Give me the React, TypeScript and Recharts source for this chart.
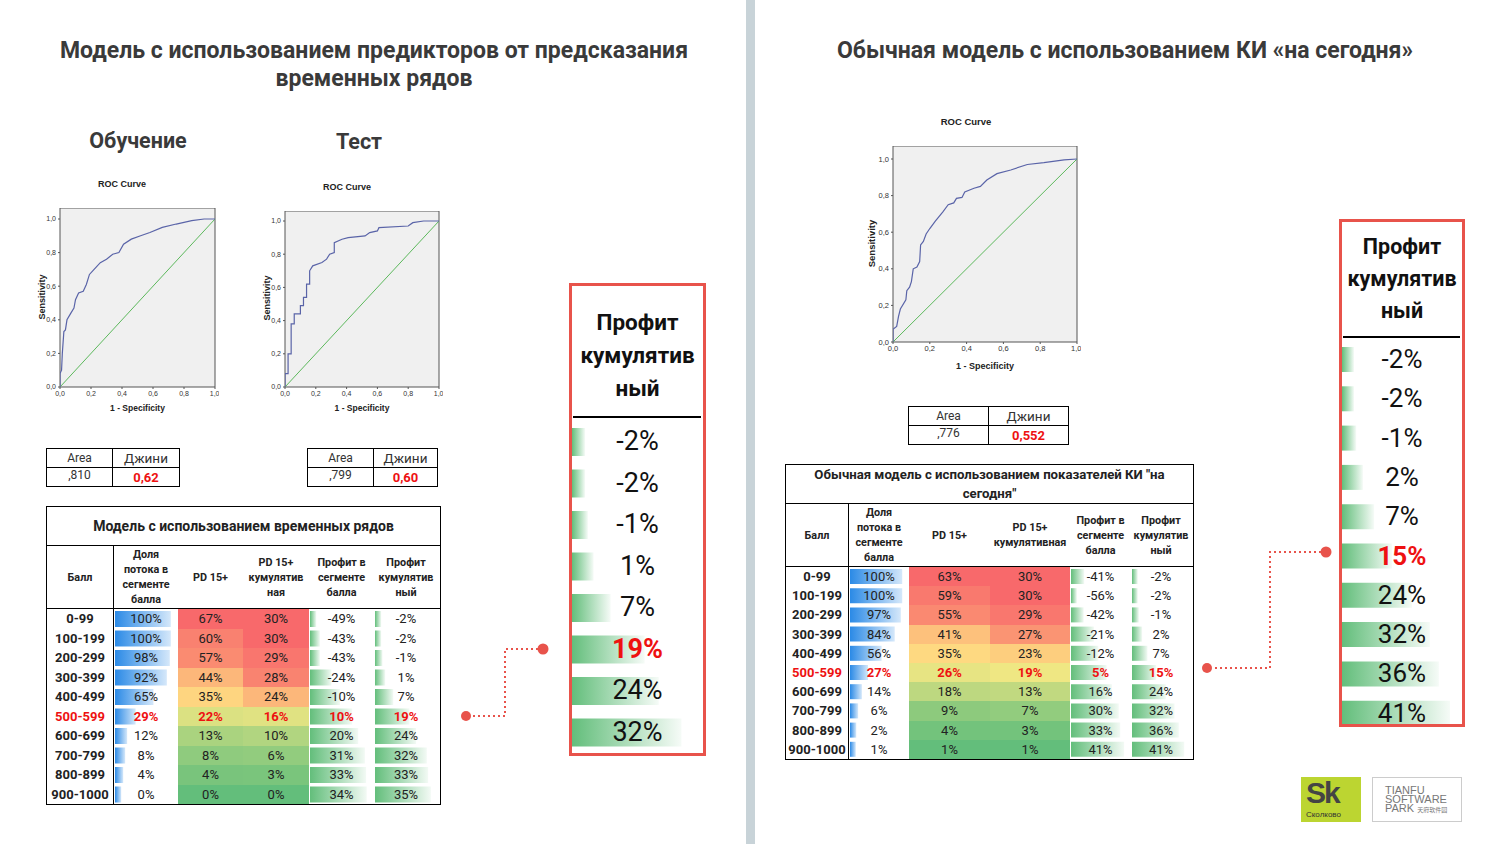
import React from 'react';
import {
  LineChart, Line, XAxis, YAxis, CartesianGrid, ReferenceArea,
  BarChart, Bar,
} from 'recharts';

// ROC curves (1 - specificity, sensitivity)
const trainRoc = [
  { x: 0, y: 0 }, { x: 0, y: 0.08 }, { x: 0.01, y: 0.1 }, { x: 0.015, y: 0.2 }, { x: 0.025, y: 0.33 },
  { x: 0.035, y: 0.34 }, { x: 0.045, y: 0.4 }, { x: 0.07, y: 0.44 }, { x: 0.09, y: 0.47 }, { x: 0.1, y: 0.52 },
  { x: 0.12, y: 0.56 }, { x: 0.15, y: 0.57 }, { x: 0.17, y: 0.61 }, { x: 0.19, y: 0.67 }, { x: 0.22, y: 0.7 },
  { x: 0.26, y: 0.74 }, { x: 0.3, y: 0.76 }, { x: 0.34, y: 0.79 }, { x: 0.38, y: 0.8 }, { x: 0.41, y: 0.85 },
  { x: 0.46, y: 0.88 }, { x: 0.52, y: 0.9 }, { x: 0.58, y: 0.92 }, { x: 0.66, y: 0.95 }, { x: 0.75, y: 0.97 },
  { x: 0.85, y: 0.99 }, { x: 0.93, y: 1 }, { x: 1, y: 1 },
];

const testRoc = [
  { x: 0, y: 0 }, { x: 0, y: 0.08 }, { x: 0.02, y: 0.08 }, { x: 0.02, y: 0.2 }, { x: 0.04, y: 0.2 },
  { x: 0.04, y: 0.38 }, { x: 0.06, y: 0.38 }, { x: 0.06, y: 0.44 }, { x: 0.1, y: 0.44 }, { x: 0.1, y: 0.49 },
  { x: 0.12, y: 0.49 }, { x: 0.12, y: 0.54 }, { x: 0.14, y: 0.54 }, { x: 0.14, y: 0.62 }, { x: 0.16, y: 0.62 },
  { x: 0.16, y: 0.7 }, { x: 0.18, y: 0.73 }, { x: 0.24, y: 0.75 }, { x: 0.27, y: 0.77 }, { x: 0.29, y: 0.8 },
  { x: 0.32, y: 0.81 }, { x: 0.32, y: 0.87 }, { x: 0.37, y: 0.89 }, { x: 0.41, y: 0.9 }, { x: 0.52, y: 0.91 },
  { x: 0.55, y: 0.93 }, { x: 0.6, y: 0.94 }, { x: 0.61, y: 0.96 }, { x: 0.8, y: 0.97 }, { x: 0.83, y: 0.99 },
  { x: 0.9, y: 1 }, { x: 1, y: 1 },
];

const todayRoc = [
  { x: 0, y: 0 }, { x: 0, y: 0.07 }, { x: 0.02, y: 0.085 }, { x: 0.03, y: 0.14 }, { x: 0.04, y: 0.18 },
  { x: 0.07, y: 0.23 }, { x: 0.075, y: 0.28 }, { x: 0.09, y: 0.3 }, { x: 0.1, y: 0.33 }, { x: 0.11, y: 0.4 },
  { x: 0.13, y: 0.41 }, { x: 0.145, y: 0.44 }, { x: 0.15, y: 0.53 }, { x: 0.165, y: 0.55 }, { x: 0.18, y: 0.59 },
  { x: 0.2, y: 0.62 }, { x: 0.23, y: 0.66 }, { x: 0.27, y: 0.71 }, { x: 0.3, y: 0.75 }, { x: 0.33, y: 0.76 },
  { x: 0.345, y: 0.785 }, { x: 0.375, y: 0.79 }, { x: 0.39, y: 0.82 }, { x: 0.44, y: 0.84 }, { x: 0.475, y: 0.85 },
  { x: 0.51, y: 0.885 }, { x: 0.565, y: 0.92 }, { x: 0.64, y: 0.94 }, { x: 0.73, y: 0.97 }, { x: 0.82, y: 0.98 },
  { x: 0.93, y: 0.995 }, { x: 1, y: 1 },
];

const diagonal = [{ x: 0, y: 0 }, { x: 1, y: 1 }];
const axisTicks = [0, 0.2, 0.4, 0.6, 0.8, 1];

// score band tables
const scoreBands = ['0-99', '100-199', '200-299', '300-399', '400-499', '500-599', '600-699', '700-799', '800-899', '900-1000'];
const highlightRow = 5;

const leftShare = [100, 100, 98, 92, 65, 29, 12, 8, 4, 0];
const leftPd = [67, 60, 57, 44, 35, 22, 13, 8, 4, 0];
const leftPdCum = [30, 30, 29, 28, 24, 16, 10, 6, 3, 0];
const leftProfitSeg = [-49, -43, -43, -24, -10, 10, 20, 31, 33, 34];
const leftProfitCum = [-2, -2, -1, 1, 7, 19, 24, 32, 33, 35];

const rightShare = [100, 100, 97, 84, 56, 27, 14, 6, 2, 1];
const rightPd = [63, 59, 55, 41, 35, 26, 18, 9, 4, 1];
const rightPdCum = [30, 30, 29, 27, 23, 19, 13, 7, 3, 1];
const rightProfitSeg = [-41, -56, -42, -21, -12, 5, 16, 30, 33, 41];
const rightProfitCum = [-2, -2, -1, 2, 7, 15, 24, 32, 36, 41];

const leftHeaders = ['Балл', 'Доля\nпотока в\nсегменте\nбалла', 'PD 15+', 'PD 15+\nкумулятив\nная', 'Профит в\nсегменте\nбалла', 'Профит\nкумулятив\nный'];
const rightHeaders = ['Балл', 'Доля\nпотока в\nсегменте\nбалла', 'PD 15+', 'PD 15+\nкумулятивная', 'Профит в\nсегменте\nбалла', 'Профит\nкумулятив\nный'];

const RED = '#e8534b';
const BLUE = '#2b8ae6';
const GREEN = '#63be7b';

const fmtTick = (v: number) => v.toFixed(1).replace('.', ',');

// excel-like 3 colour scale: green - yellow (median) - red
function mix(a: number[], b: number[], t: number) {
  const c = a.map((v, i) => Math.round(v + (b[i] - v) * t));
  return `rgb(${c[0]},${c[1]},${c[2]})`;
}
function heatColor(v: number, values: number[]) {
  const s = [...values].sort((a, b) => a - b);
  const mn = s[0], mx = s[s.length - 1];
  const mid = (s[4] + s[5]) / 2;
  const green = [99, 190, 123], yellow = [255, 235, 132], red = [248, 105, 107];
  if (v >= mid) return mix(yellow, red, mx === mid ? 0 : (v - mid) / (mx - mid));
  return mix(green, yellow, (v - mn) / (mid - mn));
}
// excel 2007 data bars: shortest 10%, longest 90% of cell
function barDomain(values: number[]): [number, number] {
  const mn = Math.min(...values), mx = Math.max(...values);
  const r = mx - mn;
  return [mn - r * 0.125, mx + r * 0.125];
}

function RocChart({ data, left, top, width, height, yMax, fs, titleTop, titleCenter, labelTop, ylabelLeft }: any) {
  const chartLeft = left - 30;
  return (
    <>
      <div style={{ position: 'absolute', left: titleCenter - 60, width: 120, top: titleTop, textAlign: 'center', fontFamily: 'Liberation Sans', fontWeight: 700, fontSize: fs + 2, color: '#222' }}>ROC Curve</div>
      <div style={{ position: 'absolute', left: chartLeft, top }}>
        <LineChart width={width + 34} height={height + 16} margin={{ top: 0, right: 4, bottom: 0, left: 0 }}>
          <CartesianGrid horizontal={false} vertical={false} fill="#f0f0f0" fillOpacity={1} />
          <XAxis type="number" dataKey="x" domain={[0, 1]} ticks={axisTicks} tickFormatter={fmtTick} height={16}
            tick={{ fontSize: fs, fill: '#333', fontFamily: 'Liberation Sans' }} tickSize={2} axisLine={false} tickLine={{ stroke: '#555' }} allowDataOverflow />
          <YAxis type="number" dataKey="y" domain={[0, yMax]} ticks={axisTicks} tickFormatter={fmtTick} width={30}
            tick={{ fontSize: fs, fill: '#333', fontFamily: 'Liberation Sans' }} tickSize={2} axisLine={false} tickLine={{ stroke: '#555' }} allowDataOverflow />
          <Line data={diagonal} dataKey="y" type="linear" stroke="#5cb85c" strokeWidth={1} dot={false} isAnimationActive={false} />
          <Line data={data} dataKey="y" type="linear" stroke="#5a64a8" strokeWidth={1.2} dot={false} isAnimationActive={false} />
          <ReferenceArea x1={0} x2={1} y1={0} y2={yMax} fill="none" stroke="#555" strokeWidth={1} ifOverflow="visible" />
        </LineChart>
      </div>
      <div style={{ position: 'absolute', left: left, width, top: labelTop, textAlign: 'center', fontFamily: 'Liberation Sans', fontWeight: 700, fontSize: fs + 1.5, color: '#222' }}>1 - Specificity</div>
      <div style={{ position: 'absolute', left: ylabelLeft - 60, top: top + height / 2 - 6, width: 120, textAlign: 'center', transform: 'rotate(-90deg)', fontFamily: 'Liberation Sans', fontWeight: 700, fontSize: fs + 2, color: '#222' }}>Sensitivity</div>
    </>
  );
}

function GiniBox({ left, top, area, gini, split, width }: any) {
  const cell: React.CSSProperties = { position: 'absolute', height: 19, lineHeight: '19px', textAlign: 'center', boxSizing: 'border-box' };
  return (
    <div style={{ position: 'absolute', left, top, width, height: 39, border: '1px solid #000', boxSizing: 'border-box', fontFamily: 'Roboto', color: '#333' }}>
      <div style={{ ...cell, left: 0, top: 0, width: split, borderRight: '1px solid #000', borderBottom: '1px solid #000', fontSize: 12 }}>Area</div>
      <div style={{ ...cell, left: split, top: 0, width: width - split - 2, borderBottom: '1px solid #000', fontSize: 13.5 }}>Джини</div>
      <div style={{ ...cell, left: 0, top: 19, width: split, borderRight: '1px solid #000', fontSize: 12, lineHeight: '15px' }}>{area}</div>
      <div style={{ ...cell, left: split, top: 19, width: width - split - 2, fontSize: 13, color: '#ee1111', fontWeight: 700 }}>{gini}</div>
    </div>
  );
}

function DataBars({ values, domain, width, height, color, id, gap, endOpacity }: any) {
  const rows = values.map((v: number, i: number) => ({ row: i, span: [domain[0], v] }));
  return (
    <BarChart width={width} height={height} data={rows} layout="vertical" margin={{ top: 0, right: 0, bottom: 0, left: 0 }} barCategoryGap={gap}>
      <defs>
        <linearGradient id={id} x1="0" y1="0" x2="1" y2="0">
          <stop offset="0%" stopColor={color} stopOpacity={1} />
          <stop offset="100%" stopColor={color} stopOpacity={endOpacity} />
        </linearGradient>
      </defs>
      <XAxis type="number" domain={domain} hide allowDataOverflow />
      <YAxis type="category" dataKey="row" hide />
      <Bar dataKey="span" fill={`url(#${id})`} isAnimationActive={false} />
    </BarChart>
  );
}

function ScoreTable({ left, top, colW, titleH, headerH, rowH, title, titleSize, headers, share, pd, pdCum, profitSeg, profitCum, id }: any) {
  const width = colW.reduce((a: number, b: number) => a + b, 0);
  const bodyH = rowH * scoreBands.length;
  const xs = colW.map((_: number, i: number) => colW.slice(0, i).reduce((a: number, b: number) => a + b, 0));
  const textStyle = (i: number): React.CSSProperties => ({
    position: 'absolute', left: 0, right: 0, top: i * rowH, height: rowH, lineHeight: rowH + 'px', textAlign: 'center', fontSize: 13,
    color: i === highlightRow ? '#ee1111' : '#222', fontWeight: i === highlightRow ? 700 : 400,
  });
  const barCol = (k: number, values: number[], color: string, suffix: string, endOpacity: number) => (
    <div style={{ position: 'absolute', left: xs[k], top: 0, width: colW[k], height: bodyH }}>
      <div style={{ position: 'absolute', left: 1, top: 0 }}>
        <DataBars values={values} domain={barDomain(values)} width={colW[k] - 2} height={bodyH} color={color} id={id + suffix} gap={2} endOpacity={endOpacity} />
      </div>
      {values.map((v, i) => <div key={i} style={textStyle(i)}>{v}%</div>)}
    </div>
  );
  const heatCol = (k: number, values: number[]) => (
    <div style={{ position: 'absolute', left: xs[k], top: 0, width: colW[k], height: bodyH }}>
      {values.map((v, i) => (
        <div key={i} style={{ ...textStyle(i), background: heatColor(v, values) }}>{v}%</div>
      ))}
    </div>
  );
  return (
    <div style={{ position: 'absolute', left, top, width: width + 2, border: '1px solid #000', fontFamily: 'Roboto', color: '#222' }}>
      <div style={{ height: titleH, borderBottom: '1px solid #000', display: 'flex', alignItems: 'center', justifyContent: 'center', textAlign: 'center', whiteSpace: 'pre-line', fontWeight: 700, fontSize: titleSize, lineHeight: '19px' }}>{title}</div>
      <div style={{ position: 'relative', height: headerH, borderBottom: '1px solid #000' }}>
        {headers.map((h: string, k: number) => (
          <div key={k} style={{ position: 'absolute', left: xs[k], top: 0, width: colW[k], height: headerH, display: 'flex', alignItems: 'center', justifyContent: 'center', textAlign: 'center', whiteSpace: 'pre-line', fontWeight: 700, fontSize: 10.8, lineHeight: '15px', boxSizing: 'border-box', borderRight: k === 0 ? '1px solid #000' : 'none' }}>{h}</div>
        ))}
      </div>
      <div style={{ position: 'relative', height: bodyH }}>
        <div style={{ position: 'absolute', left: 0, top: 0, width: colW[0], height: bodyH, borderRight: '1px solid #000', boxSizing: 'border-box' }}>
          {scoreBands.map((b, i) => <div key={b} style={{ ...textStyle(i), fontWeight: 700, fontSize: 13 }}>{b}</div>)}
        </div>
        {barCol(1, share, BLUE, 'share', 0.2)}
        {heatCol(2, pd)}
        {heatCol(3, pdCum)}
        {barCol(4, profitSeg, GREEN, 'seg', 0.08)}
        {barCol(5, profitCum, GREEN, 'cum', 0.08)}
      </div>
    </div>
  );
}

function ProfitBox({ left, top, width, height, values, domain, headTop, lineY, rowsTop, rowH, lineH, headSize, fontSize, id }: any) {
  const inner = width - 6;
  return (
    <div style={{ position: 'absolute', left, top, width, height, border: `3px solid ${RED}`, boxSizing: 'border-box', overflow: 'hidden', fontFamily: 'Roboto', background: '#fff' }}>
      <div style={{ position: 'absolute', left: 0, width: inner, top: headTop, textAlign: 'center', fontWeight: 700, fontSize: headSize, lineHeight: lineH + 'px', color: '#111', whiteSpace: 'pre-line' }}>{'Профит\nкумулятив\nный'}</div>
      <div style={{ position: 'absolute', left: 1, width: inner - 3, top: lineY, height: 2, background: '#000' }} />
      <div style={{ position: 'absolute', left: 0, top: rowsTop }}>
        <DataBars values={values} domain={domain} width={inner} height={rowH * values.length} color={GREEN} id={id} gap={7} endOpacity={0.06} />
      </div>
      {values.map((v: number, i: number) => (
        <div key={i} style={{ position: 'absolute', left: 0, width: inner, top: rowsTop + i * rowH, height: rowH, lineHeight: rowH + 'px', textAlign: 'center', fontSize, color: i === highlightRow ? '#ee1111' : '#111', fontWeight: i === highlightRow ? 700 : 400 }}>{v}%</div>
      ))}
    </div>
  );
}

export default function App() {
  const heading: React.CSSProperties = { position: 'absolute', textAlign: 'center', fontWeight: 700, color: '#3a3a3a', fontFamily: 'Roboto' };
  return (
    <div style={{ position: 'absolute', left: 0, top: 0, width: 1500, height: 844, background: '#fff', overflow: 'hidden', fontFamily: 'Roboto, sans-serif' }}>
      <div style={{ position: 'absolute', left: 746, top: 0, width: 9, height: 844, background: '#c8d3d8' }} />

      <div style={{ ...heading, left: 0, width: 748, top: 37, fontSize: 23, lineHeight: '28px' }}>
        Модель с использованием предикторов от предсказания<br />временных рядов
      </div>
      <div style={{ ...heading, left: 756, width: 738, top: 37, fontSize: 23, lineHeight: '28px' }}>
        Обычная модель с использованием КИ «на сегодня»
      </div>
      <div style={{ ...heading, left: 38, width: 200, top: 128, fontSize: 21.5 }}>Обучение</div>
      <div style={{ ...heading, left: 259, width: 200, top: 129, fontSize: 21.5 }}>Тест</div>

      <RocChart data={trainRoc} left={60} top={208} width={155} height={179} yMax={179 / 168} fs={7} titleTop={179} titleCenter={122} labelTop={403} ylabelLeft={42} />
      <RocChart data={testRoc} left={285} top={211} width={154} height={176} yMax={176 / 166} fs={7} titleTop={182} titleCenter={347} labelTop={403} ylabelLeft={267} />
      <RocChart data={todayRoc} left={893} top={146} width={184} height={196} yMax={196 / 183} fs={7.5} titleTop={116} titleCenter={966} labelTop={361} ylabelLeft={871} />

      <GiniBox left={46} top={448} width={134} split={66} area=",810" gini="0,62" />
      <GiniBox left={307} top={448} width={131} split={66} area=",799" gini="0,60" />
      <GiniBox left={908} top={406} width={161} split={80} area=",776" gini="0,552" />

      <ScoreTable left={46} top={506} colW={[67, 64, 65, 66, 65, 64]} titleH={38} headerH={62} rowH={19.5}
        title="Модель с использованием временных рядов" titleSize={14} headers={leftHeaders}
        share={leftShare} pd={leftPd} pdCum={leftPdCum} profitSeg={leftProfitSeg} profitCum={leftProfitCum} id="lt" />
      <ScoreTable left={785} top={464} colW={[63, 60, 81, 80, 61, 60]} titleH={38} headerH={62} rowH={19.2}
        title={'Обычная модель с использованием показателей КИ "на\nсегодня"'} titleSize={13.2} headers={rightHeaders}
        share={rightShare} pd={rightPd} pdCum={rightPdCum} profitSeg={rightProfitSeg} profitCum={rightProfitCum} id="rt" />

      <ProfitBox left={569} top={283} width={137} height={473} values={leftProfitCum.slice(0, 8)} domain={barDomain(leftProfitCum)}
        headTop={20} lineY={130} rowsTop={135} rowH={41.5} lineH={33} headSize={22.5} fontSize={27} id="lbig" />
      <ProfitBox left={1339} top={219} width={126} height={508} values={rightProfitCum} domain={barDomain(rightProfitCum)}
        headTop={9} lineY={114} rowsTop={118} rowH={39.3} lineH={32} headSize={21.5} fontSize={26} id="rbig" />

      <svg width={1500} height={844} style={{ position: 'absolute', left: 0, top: 0, pointerEvents: 'none' }}>
        <polyline points="543,649 505,649 505,716 470,716" fill="none" stroke={RED} strokeWidth={2} strokeDasharray="2 3" />
        <circle cx={543} cy={649} r={5.5} fill={RED} />
        <circle cx={466} cy={716} r={5} fill={RED} />
        <polyline points="1326,552 1270,552 1270,668 1212,668" fill="none" stroke={RED} strokeWidth={2} strokeDasharray="2 3" />
        <circle cx={1326} cy={552} r={5.5} fill={RED} />
        <circle cx={1207} cy={668} r={5} fill={RED} />
      </svg>

      <div style={{ position: 'absolute', left: 1301, top: 777, width: 60, height: 45, background: '#bcd531' }}>
        <div style={{ position: 'absolute', left: 5, top: 2, fontSize: 30, lineHeight: '28px', fontWeight: 700, color: '#444', letterSpacing: -2, fontFamily: 'Liberation Sans' }}>Sk</div>
        <div style={{ position: 'absolute', left: 5, top: 33, fontSize: 8, lineHeight: '9px', color: '#333', fontFamily: 'Liberation Sans' }}>Сколково</div>
      </div>
      <div style={{ position: 'absolute', left: 1372, top: 777, width: 90, height: 45, border: '1px solid #ccc', boxSizing: 'border-box', color: '#777', fontFamily: 'Liberation Sans', lineHeight: '10px' }}>
        <div style={{ position: 'absolute', left: 12, top: 7, fontSize: 11 }}>TIANFU</div>
        <div style={{ position: 'absolute', left: 12, top: 16, fontSize: 11 }}>SOFTWARE</div>
        <div style={{ position: 'absolute', left: 12, top: 25, fontSize: 11 }}>PARK <span style={{ fontSize: 6, fontFamily: 'Noto Sans CJK SC' }}>天府软件园</span></div>
      </div>
    </div>
  );
}
